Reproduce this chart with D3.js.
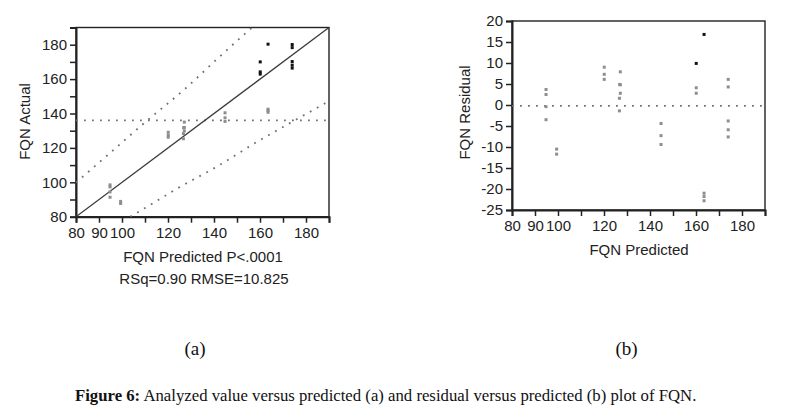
<!DOCTYPE html>
<html><head><meta charset="utf-8">
<script src="https://cdn.jsdelivr.net/npm/d3@7"></script>
<style>body{margin:0;background:#fff}svg{display:block}</style>
</head><body><svg id="c" width="794" height="414"></svg>
<script>
// ---- data ----
const predicted = [94.8,94.8,94.8,94.8, 99.4,99.4, 120.1,120.1,120.1, 127.1,126.8,127.1,127.1,126.7,126.7, 144.8,144.8,144.8, 160.1,160.1,160.1, 163.5,163.5,163.5,163.5, 174,174,174,174,174];
const actual    = [98.5,97.3,94.4,91.3, 88.9,87.7, 129.1,127.4,126.2, 135.0,131.7,131.9,129.9,128.3,125.3, 140.4,137.5,135.4, 170.0,164.2,162.9, 180.3,142.5,141.7,140.7, 180.1,178.3,170.2,168.1,166.4];
const residual  = [3.7,2.5,-0.4,-3.5, -10.5,-11.7, 9.0,7.3,6.1, 7.9,4.9,4.8,2.8,1.6,-1.4, -4.4,-7.3,-9.4, 9.9,4.1,2.8, 16.8,-21.0,-21.8,-22.8, 6.1,4.3,-3.8,-5.9,-7.6];
const darkInActual   = [0,0,0,0, 0,0, 0,0,0, 0,0,0,0,0,0, 0,0,0, 1,1,1, 1,0,0,0, 1,1,1,1,1];
const darkInResidual = [0,0,0,0, 0,0, 0,0,0, 0,0,0,0,0,0, 0,0,0, 1,0,0, 1,0,0,0, 0,0,0,0,0];
const meanActual = 136;
const meanResidual = -0.2;
const fitIntercept = 0, fitSlope = 1;
const upperBandPred   = [80, 95, 110.4, 127.8, 142, 156.5];
const upperBandActual = [99.8, 117.3, 135.3, 154.8, 172.5, 190];
const lowerBandPred   = [103.6, 112.2, 123.5, 141.2, 158.3, 173, 190];
const lowerBandActual = [80, 86.8, 96.0, 109.1, 123.2, 134.4, 147.2];
const xDomain = [80, 190];
const xTicks = [80,90,100,110,120,130,140,150,160,170,180,190];
const xTickLabels = [80,90,100,120,140,160,180];
const yDomainA = [80, 190];
const yTicksA = [80,90,100,110,120,130,140,150,160,170,180,190];
const yTickLabelsA = [80,100,120,140,160,180];
const yDomainR = [-25, 20];
const yTicksR = [-25,-20,-15,-10,-5,0,5,10,15,20];
const yTickLabelsR = [-25,-20,-15,-10,-5,0,5,10,15,20];

const svg = d3.select("#c");
svg.append("rect").attr("width",794).attr("height",414).attr("fill","#fff");
const SANS = "'Liberation Sans', Arial, sans-serif";
const SERIF = "'Liberation Serif', 'Times New Roman', serif";
const TXT = "#222";

function panel(opts) {
  const {id, left, right, top, bottom, yDomain, yTicks, yLabels} = opts;
  const x = d3.scaleLinear().domain(xDomain).range([left, right]);
  const y = d3.scaleLinear().domain(yDomain).range([bottom, top]);
  const g = svg.append("g");
  g.append("clipPath").attr("id", id).append("rect")
    .attr("x", left).attr("y", top).attr("width", right-left).attr("height", bottom-top);

  const xa = g.append("g").attr("transform", `translate(0,${bottom})`)
    .call(d3.axisBottom(x).tickValues(xTicks).tickSize(6).tickPadding(opts.xPad)
      .tickFormat(d => xTickLabels.includes(d) ? d : ""));
  const ya = g.append("g").attr("transform", `translate(${left},0)`)
    .call(d3.axisLeft(y).tickValues(yTicks).tickSize(6).tickPadding(3)
      .tickFormat(d => yLabels.includes(d) ? d : ""));
  [xa, ya].forEach(a => {
    a.attr("font-family", SANS).attr("font-size", 15);
    a.selectAll("text").attr("fill", TXT);
    a.selectAll("line").attr("stroke", "#222").attr("stroke-width", 1.5);
    a.select(".domain").attr("stroke", "#222").attr("stroke-width", 2);
  });
  g.append("rect").attr("x", left).attr("y", top).attr("width", right-left).attr("height", bottom-top)
    .attr("fill", "none").attr("stroke", "#222").attr("stroke-width", 1.4);
  return {x, y, g, clip: `url(#${id})`};
}

// ---------- panel (a) ----------
const A = panel({id:"clipA", left:76, right:329, top:27.5, bottom:216.7,
  yDomain:yDomainA, yTicks:yTicksA, yLabels:yTickLabelsA, xPad:4.5});
const dotted = {stroke:"#707070", "stroke-width":1.8, "stroke-dasharray":"1.8,6.2", fill:"none"};
function applyAttrs(sel, attrs){ for (const k in attrs) sel.attr(k, attrs[k]); return sel; }

applyAttrs(A.g.append("line")
  .attr("x1", A.x(xDomain[0])).attr("x2", A.x(xDomain[1]))
  .attr("y1", A.y(meanActual)).attr("y2", A.y(meanActual)), dotted);

const bandLine = d3.line().x(d => A.x(d[0])).y(d => A.y(d[1])).curve(d3.curveMonotoneX);
applyAttrs(A.g.append("path").attr("clip-path", A.clip)
  .attr("d", bandLine(upperBandPred.map((p,i) => [p, upperBandActual[i]]))), dotted);
applyAttrs(A.g.append("path").attr("clip-path", A.clip)
  .attr("d", bandLine(lowerBandPred.map((p,i) => [p, lowerBandActual[i]]))), dotted);

A.g.append("line").attr("clip-path", A.clip)
  .attr("x1", A.x(xDomain[0])).attr("y1", A.y(fitIntercept + fitSlope*xDomain[0]))
  .attr("x2", A.x(xDomain[1])).attr("y2", A.y(fitIntercept + fitSlope*xDomain[1]))
  .attr("stroke", "#3a3a3a").attr("stroke-width", 1.3);

A.g.selectAll("rect.pt").data(predicted.map((p,i) => ({p, v: actual[i], d: darkInActual[i]})))
  .join("rect").attr("class","pt")
  .attr("x", d => A.x(d.p) - 1.5).attr("y", d => A.y(d.v) - 1.5)
  .attr("width", 3).attr("height", 3)
  .attr("fill", d => d.d ? "#111" : "#8e8e8e");

svg.append("text").attr("transform", "translate(30,121.5) rotate(-90)")
  .attr("text-anchor","middle").attr("font-family",SANS).attr("font-size",15).attr("fill",TXT)
  .text("FQN Actual");
svg.append("text").attr("x",203).attr("y",261.7).attr("text-anchor","middle")
  .attr("font-family",SANS).attr("font-size",15).attr("fill",TXT).text("FQN Predicted P<.0001");
svg.append("text").attr("x",204).attr("y",284).attr("text-anchor","middle")
  .attr("font-family",SANS).attr("font-size",15).attr("fill",TXT).text("RSq=0.90 RMSE=10.825");

// ---------- panel (b) ----------
const B = panel({id:"clipB", left:512, right:765, top:21, bottom:210,
  yDomain:yDomainR, yTicks:yTicksR, yLabels:yTickLabelsR, xPad:4});
applyAttrs(B.g.append("line")
  .attr("x1", B.x(xDomain[0])).attr("x2", B.x(xDomain[1]))
  .attr("y1", B.y(meanResidual)).attr("y2", B.y(meanResidual)), dotted);
B.g.selectAll("rect.pt").data(predicted.map((p,i) => ({p, v: residual[i], d: darkInResidual[i]})))
  .join("rect").attr("class","pt")
  .attr("x", d => B.x(d.p) - 1.5).attr("y", d => B.y(d.v) - 1.5)
  .attr("width", 3).attr("height", 3)
  .attr("fill", d => d.d ? "#111" : "#8e8e8e");

svg.append("text").attr("transform", "translate(470.3,112.5) rotate(-90)")
  .attr("text-anchor","middle").attr("font-family",SANS).attr("font-size",15).attr("fill",TXT)
  .text("FQN Residual");
svg.append("text").attr("x",639).attr("y",255).attr("text-anchor","middle")
  .attr("font-family",SANS).attr("font-size",15).attr("fill",TXT).text("FQN Predicted");

// ---------- sub-labels and caption ----------
svg.append("text").attr("x",195).attr("y",355).attr("text-anchor","middle")
  .attr("font-family",SERIF).attr("font-size",19).attr("fill","#111").text("(a)");
svg.append("text").attr("x",626.5).attr("y",355).attr("text-anchor","middle")
  .attr("font-family",SERIF).attr("font-size",19).attr("fill","#111").text("(b)");
const cap = svg.append("text").attr("x",75).attr("y",401)
  .attr("font-family",SERIF).attr("font-size",16).attr("fill","#111");
cap.append("tspan").attr("font-weight","bold").text("Figure 6:");
cap.append("tspan").text(" Analyzed value versus predicted (a) and residual versus predicted (b) plot of FQN.");
const w = cap.node().getComputedTextLength();
cap.attr("font-size", 16 * 622 / w);
</script></body></html>
